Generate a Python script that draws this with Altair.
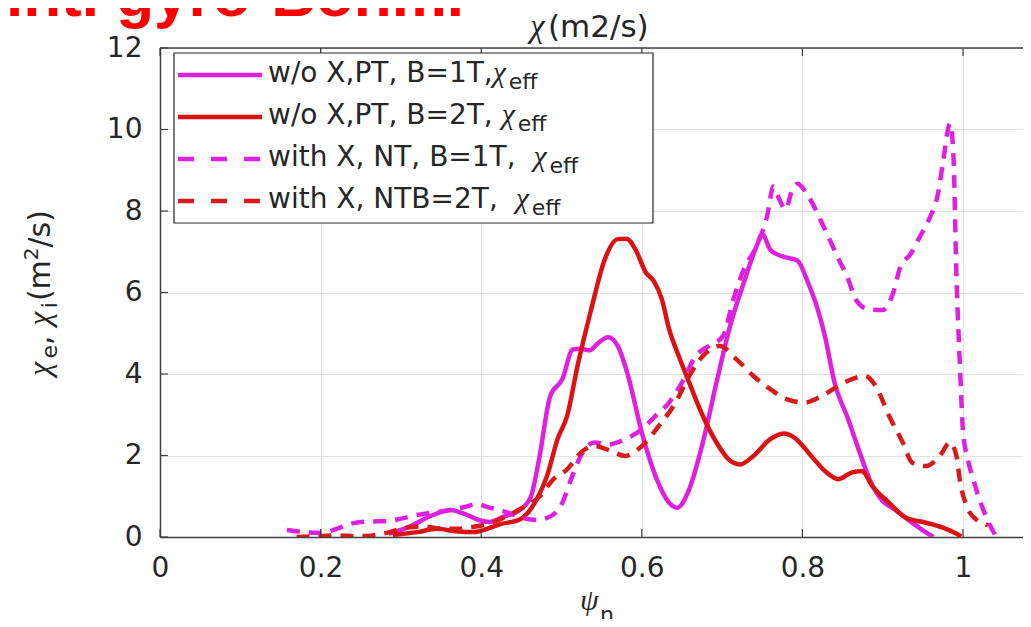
import altair as alt
import pandas as pd

# ---------------- data ----------------
ms_x = [0.285, 0.31, 0.34, 0.362, 0.38, 0.40, 0.41, 0.428, 0.448, 0.462, 0.472, 0.486, 0.501, 0.514,
        0.524, 0.535, 0.545, 0.558, 0.570, 0.583, 0.600, 0.617, 0.634, 0.644, 0.659, 0.676, 0.693,
        0.710, 0.727, 0.743, 0.750, 0.760, 0.773, 0.794, 0.807, 0.819, 0.828, 0.840, 0.857, 0.870,
        0.884, 0.899, 0.913, 0.930, 0.946, 0.963]
ms_y = [0.08, 0.25, 0.54, 0.66, 0.56, 0.40, 0.37, 0.50, 0.66, 1.0, 1.9, 3.46, 3.87, 4.6,
        4.62, 4.58, 4.75, 4.9, 4.69, 3.95, 2.56, 1.5, 0.84, 0.72, 1.17, 2.32, 3.79,
        5.18, 6.24, 7.14, 7.43, 7.05, 6.9, 6.78, 6.24, 5.59, 4.93, 3.79, 2.89, 2.15,
        1.4, 0.9, 0.7, 0.45, 0.22, 0.0]

rs_x = [0.29, 0.32, 0.345, 0.365, 0.39, 0.41, 0.423, 0.448, 0.469, 0.482, 0.495, 0.507, 0.520, 0.537,
        0.554, 0.570, 0.581, 0.592, 0.605, 0.615, 0.625, 0.634, 0.646, 0.659, 0.676, 0.693, 0.710,
        0.722, 0.739, 0.760, 0.777, 0.790, 0.811, 0.828, 0.845, 0.861, 0.874, 0.887, 0.908, 0.929,
        0.954, 0.975, 0.998]
rs_y = [0.05, 0.12, 0.2, 0.15, 0.12, 0.22, 0.31, 0.43, 0.92, 1.5, 2.4, 2.97, 4.2, 5.59,
        6.82, 7.31, 7.32, 7.06, 6.49, 6.28, 5.83, 5.1, 4.44, 3.79, 2.97, 2.32, 1.87,
        1.78, 1.99, 2.4, 2.54, 2.44, 1.99, 1.62, 1.42, 1.58, 1.62, 1.25, 0.84, 0.47,
        0.35, 0.23, 0.02]

md_x = [0.158, 0.18, 0.20, 0.22, 0.241, 0.262, 0.283, 0.30, 0.32, 0.34, 0.361, 0.38, 0.395, 0.407,
        0.425, 0.44, 0.455, 0.469, 0.482, 0.499, 0.512, 0.524, 0.541, 0.558, 0.579, 0.600, 0.617,
        0.634, 0.650, 0.667, 0.684, 0.701, 0.714, 0.727, 0.743, 0.756, 0.764, 0.771, 0.779, 0.787,
        0.794, 0.807, 0.828, 0.845, 0.857, 0.866, 0.882, 0.900, 0.913, 0.922, 0.935, 0.946, 0.959,
        0.969, 0.975, 0.984, 0.988, 0.992, 0.996, 1.0, 1.006, 1.013, 1.02, 1.027, 1.04]
md_y = [0.17, 0.12, 0.10, 0.2, 0.34, 0.38, 0.39, 0.45, 0.54, 0.6, 0.66, 0.74, 0.81, 0.74,
        0.65, 0.55, 0.45, 0.42, 0.47, 0.76, 1.42, 1.99, 2.32, 2.27, 2.4, 2.64, 2.97,
        3.3, 3.79, 4.44, 4.69, 4.93, 5.83, 6.57, 7.14, 7.87, 8.6, 8.3, 8.04, 8.5,
        8.67, 8.37, 7.55, 6.82, 6.33, 5.84, 5.59, 5.57, 5.99, 6.63, 6.95, 7.36, 7.85,
        8.44, 9.18, 10.15, 9.4, 6.3, 4.3, 2.6, 1.9, 1.4, 0.95, 0.58, 0.05]

rd_x = [0.17, 0.20, 0.22, 0.245, 0.265, 0.286, 0.303, 0.328, 0.348, 0.37, 0.39, 0.402, 0.423, 0.448,
        0.473, 0.490, 0.507, 0.524, 0.541, 0.562, 0.579, 0.600, 0.621, 0.642, 0.659, 0.676, 0.697,
        0.718, 0.739, 0.760, 0.781, 0.803, 0.824, 0.845, 0.861, 0.878, 0.891, 0.908, 0.925, 0.937,
        0.954, 0.971, 0.984, 0.992, 0.996, 1.005, 1.017, 1.031]
rd_y = [0.0, 0.02, 0.04, 0.02, 0.04, 0.12, 0.22, 0.26, 0.21, 0.2, 0.25, 0.29, 0.43, 0.68,
        1.0, 1.42, 1.66, 2.07, 2.23, 2.11, 1.99, 2.23, 2.72, 3.3, 3.95, 4.44, 4.69,
        4.36, 3.95, 3.63, 3.38, 3.3, 3.46, 3.71, 3.87, 3.95, 3.71, 2.97, 2.32, 1.82,
        1.74, 1.99, 2.32, 1.97, 1.4, 0.74, 0.42, 0.29]

series_labels = ["w/o X,PT, B=1T,", "w/o X,PT, B=2T,", "with X, NT, B=1T,", "with X, NTB=2T,"]
series_colors = ["#e020e0", "#dc1212", "#e020e0", "#d81a1a"]
series_dashed = [False, False, True, True]
series_x = [ms_x, rs_x, md_x, rd_x]
series_y = [ms_y, rs_y, md_y, rd_y]

x_ticks = [0, 0.2, 0.4, 0.6, 0.8, 1.0]
y_ticks = [0, 2, 4, 6, 8, 10, 12]

# ---------------- layout ----------------
W, H = 863, 489
XMAX = W / 803.0
INK = "#262626"
SANS = "DejaVu Sans"
SERIF = "Liberation Serif"

xs = alt.Scale(domain=[0, XMAX], nice=False, zero=False)
ys = alt.Scale(domain=[0, 12], nice=False)
xaxis = alt.Axis(values=x_ticks, format="~g", title=None, grid=True, gridColor="#e2e2e2",
                 gridWidth=1, ticks=False, labelFont=SANS, labelFontSize=28, labelColor=INK,
                 labelPadding=17, domainColor="#404040", domainWidth=1.5, labelFlush=False)
yaxis = alt.Axis(values=y_ticks, format="d", title=None, grid=True, gridColor="#e2e2e2",
                 gridWidth=1, ticks=False, labelFont=SANS, labelFontSize=28, labelColor=INK,
                 labelPadding=18, domainColor="#404040", domainWidth=1.5)

one = pd.DataFrame({"k": [0]})
layers = []

# curves
for lab, col, dsh, xv, yv in zip(series_labels, series_colors, series_dashed, series_x, series_y):
    df = pd.DataFrame({"x": xv, "y": yv})
    kw = dict(color=col, strokeWidth=4.5, interpolate="monotone", clip=True, strokeCap="butt")
    if dsh:
        kw["strokeDash"] = [13, 9]
    layers.append(
        alt.Chart(df).mark_line(**kw).encode(
            x=alt.X("x:Q", scale=xs, axis=xaxis),
            y=alt.Y("y:Q", scale=ys, axis=yaxis),
        )
    )

# inward ticks and top border
xt = pd.DataFrame({"x": x_ticks})
yt = pd.DataFrame({"y": y_ticks})
layers.append(alt.Chart(xt).mark_rule(color="#404040", strokeWidth=1.2).encode(
    x=alt.X("x:Q", scale=xs, axis=xaxis), y=alt.value(H), y2=alt.value(H - 8)))
layers.append(alt.Chart(xt).mark_rule(color="#404040", strokeWidth=1.2).encode(
    x=alt.X("x:Q", scale=xs, axis=xaxis), y=alt.value(0), y2=alt.value(8)))
layers.append(alt.Chart(yt).mark_rule(color="#404040", strokeWidth=1.2).encode(
    y=alt.Y("y:Q", scale=ys, axis=yaxis), x=alt.value(0), x2=alt.value(8)))
layers.append(alt.Chart(one).mark_rule(color="#404040", strokeWidth=1.5).encode(
    x=alt.value(0), x2=alt.value(W), y=alt.value(0)))


def txt(s, x, y, size, font=SANS, style="normal", weight="normal", color=INK, angle=0, opacity=1.0):
    return alt.Chart(one).mark_text(
        text=s, align="left", baseline="alphabetic", font=font, fontSize=size,
        fontStyle=style, fontWeight=weight, color=color, angle=angle, opacity=opacity
    ).encode(x=alt.value(x), y=alt.value(y))


# legend box
layers.append(alt.Chart(one).mark_rect(fill="white", stroke=INK, strokeWidth=1.2).encode(
    x=alt.value(14), x2=alt.value(493), y=alt.value(5), y2=alt.value(175)))
text_em = [8.027, 8.027, 9.163, 8.527]
base_y = [34, 76, 118, 160]
LF = 28
for i, lab in enumerate(series_labels):
    ly = base_y[i] - 7
    kw = dict(color=series_colors[i], strokeWidth=4.5, strokeCap="butt")
    if series_dashed[i]:
        kw["strokeDash"] = [16, 17]
    layers.append(alt.Chart(one).mark_rule(**kw).encode(
        x=alt.value(18), x2=alt.value(102), y=alt.value(ly)))
    layers.append(txt(lab, 108, base_y[i], LF))
    cx = 108 + text_em[i] * LF + (0 if i == 0 else 0.318 * LF)
    layers.append(txt("χ", cx, base_y[i], 30, font=SERIF, style="italic"))
    layers.append(txt("eff", cx + 16, base_y[i] + 7, 22))

# headline (partly cut off at the top of the page, as in the reference)
layers.append(txt("int. gyro-Bohm.", -154, -32, 62, font="Liberation Sans", weight="bold",
                  color="#ff0000"))

# title chi(m2/s)
layers.append(txt("χ", 370, -11, 33, font=SERIF, style="italic"))
layers.append(txt("(m2/s)", 388, -11, 31))

# x title psi_n
layers.append(txt("ψ", 420, 562, 30, font=SERIF, style="italic"))
layers.append(txt("n", 440, 574, 22))

# y title chi_e, chi_i(m^2/s), rotated
bx = -110
layers.append(txt("χ", bx, 328, 32, font=SERIF, style="italic", angle=270))
layers.append(txt("e", bx + 7, 310.4, 22, angle=270))
layers.append(txt(",", bx, 296.9, 30, angle=270))
layers.append(txt("χ", bx, 277.8, 32, font=SERIF, style="italic", angle=270))
layers.append(txt("i", bx + 7, 260.2, 22, angle=270))
layers.append(txt("(m", bx, 253.1, 30, angle=270))
layers.append(txt("2", bx - 12, 212.2, 20, angle=270))
layers.append(txt("/s)", bx, 199.5, 30, angle=270))

chart = alt.layer(*layers).properties(
    width=W, height=H,
    autosize=alt.AutoSizeParams(type="none"),
    padding={"left": 152, "top": 40, "right": 0, "bottom": 82},
).configure_view(stroke=None)

chart.save("out.html", embed_options={"renderer": "svg", "actions": False})
